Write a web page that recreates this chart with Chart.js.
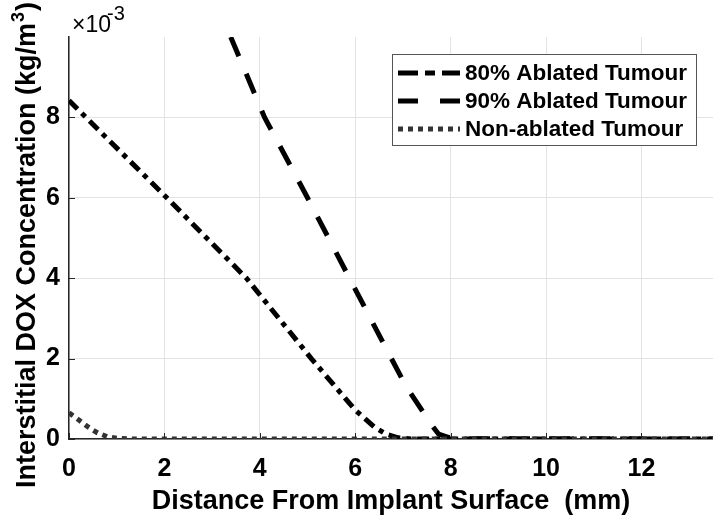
<!DOCTYPE html>
<html>
<head>
<meta charset="utf-8">
<script src="https://cdn.jsdelivr.net/npm/chart.js@4"></script>
<style>
  html, body { margin: 0; padding: 0; background: #fff; }
  #wrap { width: 713px; height: 518px; }
</style>
</head>
<body>
<div id="wrap"><canvas id="doxChart" width="713" height="518"></canvas></div>
<script>
// Data (concentration in units of 1e-3 kg/m^3)
const dist80 = [0, 2.05, 3.72, 5.08, 6.0, 6.4, 6.65, 6.9, 7.2, 13.5];
const conc80 = [8.42, 6.0, 4.0, 2.0, 0.72, 0.3, 0.12, 0.03, 0.0, 0.0];

const dist90 = [3.2, 3.39, 4.1, 5.0, 5.88, 6.67, 7.07, 7.6, 7.75, 7.95, 8.4, 13.5];
const conc90 = [10.5, 10.0, 8.0, 6.0, 4.0, 2.2, 1.3, 0.35, 0.12, 0.04, 0.01, 0.0];

const distNon = [0, 0.2, 0.4, 0.6, 0.8, 1.0, 1.3, 13.5];
const concNon = [0.65, 0.48, 0.3, 0.15, 0.06, 0.02, 0.0, 0.0];

const xTicks = [0, 2, 4, 6, 8, 10, 12];
const yTicks = [0, 2, 4, 6, 8];

const FONT = "'Liberation Sans', Arial, Helvetica, sans-serif";

function pts(xs, ys) {
    return xs.map((x, i) => ({ x: x, y: ys[i] }));
}

// Legend drawn inside the plot, MATLAB style
const boxLegend = {
    id: 'boxLegend',
    afterDatasetsDraw(chart) {
        const ctx = chart.ctx;
        const left = 392, top = 54, w = 304, h = 91;
        ctx.save();
        ctx.fillStyle = '#fff';
        ctx.fillRect(left, top, w, h);
        ctx.strokeStyle = '#555';
        ctx.lineWidth = 1;
        ctx.strokeRect(left + 0.5, top + 0.5, w, h);
        ctx.font = 'bold 22.5px ' + FONT;
        ctx.textBaseline = 'middle';
        chart.data.datasets.forEach((ds, i) => {
            const y = top + 19 + i * 28;
            ctx.beginPath();
            ctx.setLineDash(ds.legendDash);
            ctx.strokeStyle = ds.borderColor;
            ctx.lineWidth = ds.borderWidth;
            ctx.moveTo(398, y);
            ctx.lineTo(460, y);
            ctx.stroke();
            ctx.setLineDash([]);
            ctx.fillStyle = '#000';
            ctx.fillText(ds.label, 465, y + 1);
        });
        ctx.restore();
    }
};

// inside tick marks, y title with superscript, "x10^-3" multiplier
const extras = {
    id: 'extras',
    afterDraw(chart) {
        const ctx = chart.ctx;
        const area = chart.chartArea;
        const xs = chart.scales.x, ys = chart.scales.y;
        ctx.save();
        ctx.strokeStyle = '#262626';
        ctx.lineWidth = 1;
        ctx.beginPath();
        xTicks.forEach(v => {
            const px = Math.round(xs.getPixelForValue(v)) + 0.5;
            ctx.moveTo(px, area.bottom);
            ctx.lineTo(px, area.bottom - 6);
        });
        yTicks.forEach(v => {
            const py = Math.round(ys.getPixelForValue(v)) + 0.5;
            ctx.moveTo(area.left, py);
            ctx.lineTo(area.left + 6, py);
        });
        ctx.stroke();

        ctx.fillStyle = '#000';
        ctx.textBaseline = 'alphabetic';
        ctx.textAlign = 'left';
        ctx.font = '23px ' + FONT;
        ctx.fillText('\u00d710', 72, 32);
        ctx.font = '20px ' + FONT;
        ctx.fillText('-3', 107, 20);

        // rotated y axis title
        ctx.save();
        ctx.translate(35, 488);
        ctx.rotate(-Math.PI / 2);
        const main = 'Interstitial DOX Concentration (kg/m';
        ctx.font = 'bold 27px ' + FONT;
        ctx.fillText(main, 0, 0);
        let cx = ctx.measureText(main).width;
        ctx.font = 'bold 18px ' + FONT;
        ctx.fillText('3', cx + 1, -11);
        cx += ctx.measureText('3').width + 2;
        ctx.font = 'bold 27px ' + FONT;
        ctx.fillText(')', cx, 0);
        ctx.restore();

        ctx.restore();
    }
};

new Chart(document.getElementById('doxChart'), {
    type: 'line',
    data: {
        datasets: [{
            label: '80% Ablated Tumour',
            data: pts(dist80, conc80),
            borderColor: '#000',
            borderWidth: 5,
            borderDash: [12, 6, 5, 6],
            legendDash: [20, 7, 10, 7],
            pointRadius: 0,
            tension: 0,
            order: 2
        }, {
            label: '90% Ablated Tumour',
            data: pts(dist90, conc90),
            borderColor: '#000',
            borderWidth: 5,
            borderDash: [21, 19],
            borderDashOffset: 18,
            legendDash: [20, 22],
            pointRadius: 0,
            tension: 0,
            order: 1
        }, {
            label: 'Non-ablated Tumour',
            data: pts(distNon, concNon),
            borderColor: '#333',
            borderWidth: 5,
            borderDash: [5, 5],
            legendDash: [5, 5],
            pointRadius: 0,
            tension: 0,
            order: 0
        }]
    },
    options: {
        responsive: false,
        animation: false,
        layout: { padding: { top: 37, right: 0, left: 0, bottom: 0 } },
        plugins: {
            legend: { display: false },
            tooltip: { enabled: false }
        },
        scales: {
            x: {
                type: 'linear',
                min: 0,
                max: 13.5,
                afterBuildTicks: axis => { axis.ticks = xTicks.map(v => ({ value: v })); },
                afterFit: axis => { axis.height = 79; },
                grid: { color: '#e3e3e3', drawTicks: false },
                border: { color: '#262626', width: 1.5 },
                ticks: {
                    padding: 15,
                    color: '#000',
                    font: { family: FONT, size: 25, weight: 'bold' }
                },
                title: {
                    display: true,
                    text: 'Distance From Implant Surface  (mm)',
                    color: '#000',
                    padding: { top: 0, bottom: 0 },
                    font: { family: FONT, size: 27, weight: 'bold' }
                }
            },
            y: {
                type: 'linear',
                min: 0,
                max: 10,
                afterBuildTicks: axis => { axis.ticks = yTicks.map(v => ({ value: v })); },
                afterFit: axis => { axis.width = 69; },
                grid: { color: '#e3e3e3', drawTicks: false },
                border: { color: '#262626', width: 1.5 },
                ticks: {
                    padding: 9,
                    color: '#000',
                    font: { family: FONT, size: 25, weight: 'bold' }
                }
            }
        }
    },
    plugins: [boxLegend, extras]
});
</script>
</body>
</html>
